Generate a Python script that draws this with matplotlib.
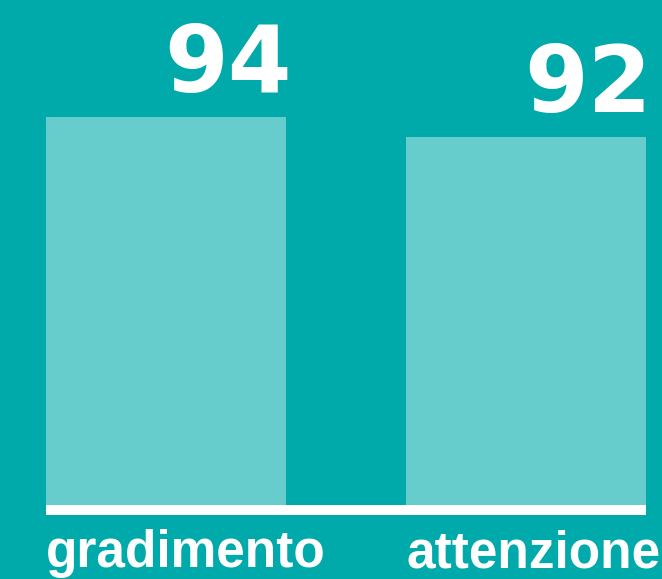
import matplotlib
matplotlib.use("Agg")
import matplotlib.pyplot as plt

# dati
categorie = ["gradimento", "attenzione"]
valori = [94, 92]

bg = "#00AAAA"
bar_col = "#66CCCC"

plt.rcParams['font.family'] = ['Liberation Sans', 'DejaVu Sans']

fig = plt.figure(figsize=(6.62, 5.79), dpi=100, facecolor=bg)
ax = fig.add_axes([46 / 662, 74 / 579, 600 / 662, 505 / 579])
ax.set_facecolor(bg)

w = 2 / 3
x = range(len(categorie))
bars = ax.bar(x, valori, width=w, color=bar_col, zorder=2)

# asse troncato come nell'originale
ax.set_xlim(-w / 2, len(categorie) - 1 + w / 2)
ax.set_ylim(55.2, 105.7)

for s in ["top", "left", "right"]:
    ax.spines[s].set_visible(False)
sp = ax.spines["bottom"]
sp.set_color("white")
sp.set_linewidth(7.2)
sp.set_capstyle("butt")
sp.set_position(("outward", 3.6))
ax.set_xticks([])
ax.set_yticks([])

# valori sopra le barre, allineati a destra
for b, v in zip(bars, valori):
    ax.annotate(str(v), xy=(b.get_x() + b.get_width(), v),
                xytext=(4, 18), textcoords="offset points",
                ha="right", va="baseline", fontsize=66,
                fontweight="bold", color="white",
                family="DejaVu Sans", annotation_clip=False)

# etichette sotto, allineate a sinistra
for b, c in zip(bars, categorie):
    ax.annotate(c, xy=(b.get_x(), 55.2),
                xytext=(0, -45), textcoords="offset points",
                ha="left", va="baseline", fontsize=37,
                fontweight="bold", color="white", annotation_clip=False)

fig.savefig("out.png", dpi=100, facecolor=bg)
